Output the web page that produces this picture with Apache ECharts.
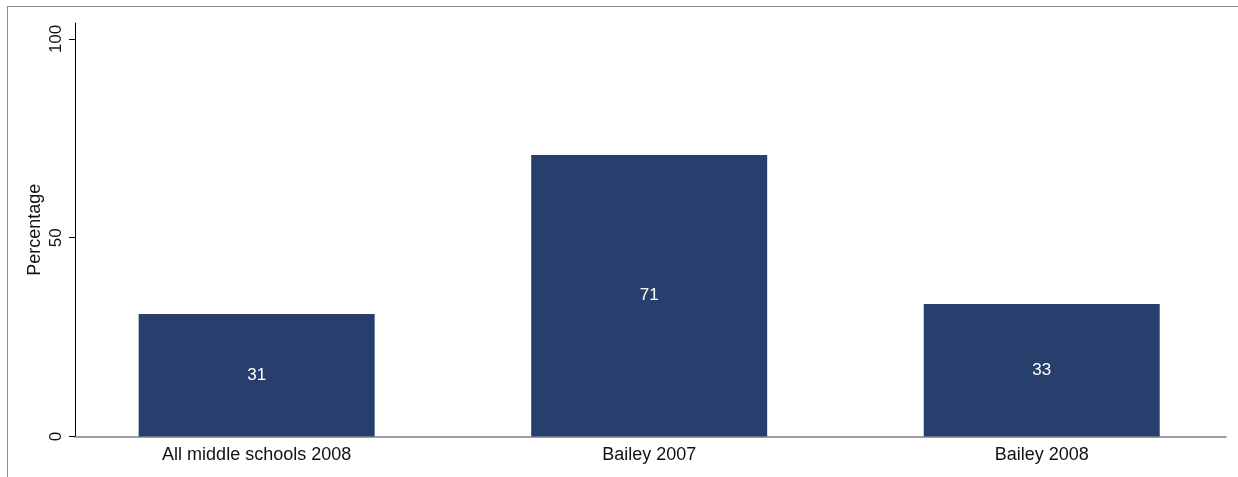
<!DOCTYPE html>
<html>
<head>
<meta charset="utf-8">
<script src="https://cdn.jsdelivr.net/npm/echarts@6/dist/echarts.min.js"></script>
<style>
html,body{margin:0;padding:0;background:#fff;}
#wrap{position:relative;width:1238px;height:477px;overflow:hidden;}
#frame{position:absolute;left:7px;top:6px;width:1300px;height:600px;border-top:1.5px solid #8c8c8c;border-left:1.5px solid #8c8c8c;box-sizing:border-box;}
#chart{position:absolute;left:0;top:0;width:1238px;height:477px;}
</style>
</head>
<body>
<div id="wrap"><div id="frame"></div><div id="chart"></div></div>
<script>
const categories = ['All middle schools 2008', 'Bailey 2007', 'Bailey 2008'];
const values = [30.8, 70.8, 33.3];
const yTicks = [0, 50, 100];
const yTitle = 'Percentage';

const font = '"Liberation Sans", Arial, sans-serif';
const chart = echarts.init(document.getElementById('chart'), null, {renderer: 'canvas'});
chart.setOption({
  animation: false,
  backgroundColor: 'transparent',
  grid: [
    {left: 75, right: 12, top: 23, bottom: 40.5, containLabel: false},
    {left: 60.4, width: 1180, top: 23, bottom: 40.5, containLabel: false}
  ],
  xAxis: [
    {gridIndex: 0, type: 'value', min: 0, max: 1,
     axisLine: {show: true, lineStyle: {color: '#808080', width: 1.5}},
     axisTick: {show: false}, axisLabel: {show: false}, splitLine: {show: false}},
    {gridIndex: 1, type: 'category', data: categories,
     axisLine: {show: false}, axisTick: {show: false}, splitLine: {show: false},
     axisLabel: {color: '#111', fontSize: 18, fontFamily: font, margin: 10, interval: 0}}
  ],
  yAxis: [
    {gridIndex: 0, type: 'value', min: 0, max: 104, interval: 50,
     name: yTitle, nameLocation: 'middle', nameGap: 31, nameRotate: 90, nameMoveOverlap: false,
     nameTextStyle: {color: '#111', fontSize: 18, fontFamily: font},
     axisLine: {show: true, lineStyle: {color: '#000', width: 1}},
     axisTick: {show: true, length: 6, lineStyle: {color: '#000'}, customValues: yTicks},
     axisLabel: {color: '#111', fontSize: 17, fontFamily: font, rotate: 90, margin: 10,
       customValues: yTicks, formatter: v => String(v)},
     splitLine: {show: false}},
    {gridIndex: 1, type: 'value', min: 0, max: 104, show: false}
  ],
  series: [{
    type: 'bar', xAxisIndex: 1, yAxisIndex: 1, data: values, barWidth: 236,
    itemStyle: {color: '#283f6d'},
    label: {show: true, position: 'inside', color: '#fff', fontSize: 17, fontFamily: font,
      formatter: p => String(Math.round(p.value))}
  }]
});
</script>
</body>
</html>
